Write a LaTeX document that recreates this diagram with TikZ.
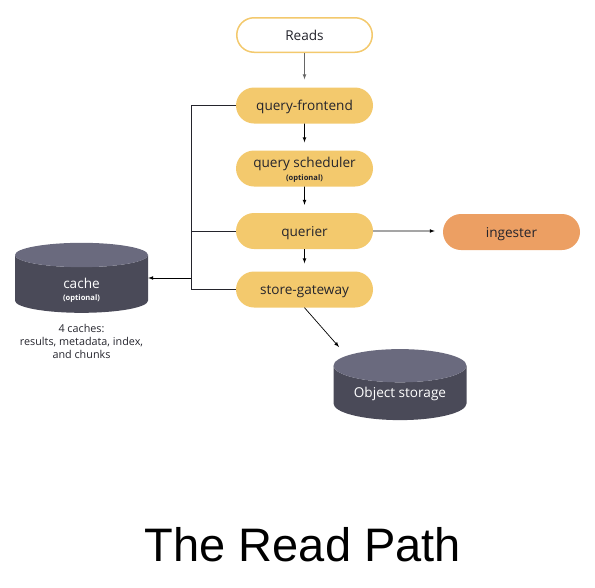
\documentclass[tikz,border=0pt]{standalone}
\usepackage{fontspec}
\setmainfont{Open Sans}
\newfontfamily\titlefont{Liberation Sans}
\usetikzlibrary{shapes.geometric,shapes.misc}
\definecolor{pillyellow}{HTML}{F3C96D}
\definecolor{pillorange}{HTML}{EC9F63}
\definecolor{cylbody}{HTML}{4A4A58}
\definecolor{cyltop}{HTML}{6A6A7E}
\definecolor{inktext}{HTML}{24242C}
\newcommand{\optnote}{\fontsize{7.6}{9}\bfseries\selectfont (optional)}
\newcommand{\lowered}[2]{\raisebox{-#1}[\height][\depth]{#2}}
\tikzset{
	pill/.style={rounded rectangle, minimum width=137pt, minimum height=36pt, inner sep=0pt, fill=pillyellow, text=inktext, align=center, font=\fontsize{13.6}{15}\selectfont},
	oneline/.style={text height=12pt, text depth=2pt},
	store/.style={cylinder, shape border rotate=90, cylinder uses custom fill, cylinder body fill=cylbody, cylinder end fill=cyltop, minimum width=133pt, inner sep=0pt, text=white, align=center, font=\fontsize{13.6}{15}\selectfont},
	flow/.style={-latex, black, line width=0.7pt, shorten >=8pt},
	bus/.style={draw=inktext, line width=0.7pt}
}
\begin{document}
\begin{tikzpicture}[node distance = 63pt, auto]
				\useasboundingbox (0,0) rectangle (595pt,-587pt);
				\node (reads) [pill, oneline, fill=white, draw=pillyellow, line width=1.5pt, minimum width=135.5pt, minimum height=34.5pt] at (304.5pt,-35pt) {Reads};
				\node (frontend) [pill, oneline, below of=reads, node distance=70.5pt] {query-frontend};
				\node (scheduler) [pill, below of=frontend] {\lowered{1pt}{query scheduler}\\[-2pt]\lowered{1pt}{\optnote}};
				\node (querier) [pill, oneline, below of=scheduler, node distance=62.5pt] {querier};
				\node (gateway) [pill, oneline, below of=querier, node distance=58.5pt] {store-gateway};
				\node (ingester) [pill, oneline, fill=pillorange, right of=querier, node distance=207pt, yshift=-1pt] {ingester};
				\node (cache) [store, minimum height=70pt, aspect=0.66] at (81.5pt,-284pt) {\lowered{7pt}{cache}\\[-1pt]\lowered{5pt}{\optnote}};
				\node (object) [store, minimum height=71pt, aspect=0.36] at (400pt,-393pt) {\lowered{1pt}{Object storage}};
				\node (note) [text=inktext, align=center, font=\fontsize{10.8}{13}\selectfont] at (81.5pt,-341pt) {4 caches:\\results, metadata, index,\\and chunks};
				\node (title) [text=black, font=\titlefont\fontsize{47}{54}\selectfont] at (303pt,-545pt) {The Read Path};

				\coordinate (topbus) at (191pt,-105.5pt);
				\coordinate (midbus) at (191pt,-231pt);
				\coordinate (lowbus) at (191pt,-289.5pt);
				\coordinate (tapbus) at (191pt,-278pt);
				\coordinate (objectin) at (339pt,-347pt);

				\draw [flow, draw=gray!80!black] (reads) -- (frontend);
				\draw [flow] (frontend) -- (scheduler);
				\draw [flow] (scheduler) -- (querier);
				\draw [flow] (querier) -- (gateway);
				\draw [flow] (querier) -- (ingester.west |- querier);
				\draw [flow, shorten >=0pt] (gateway.south) -- (objectin);
				\draw [bus] (frontend) -- (topbus) -- (lowbus) -- (gateway);
				\draw [bus] (querier) -- (midbus);
				\draw [flow, shorten >=0pt] (tapbus) -- (cache.east |- tapbus);
			\end{tikzpicture}
\end{document}
